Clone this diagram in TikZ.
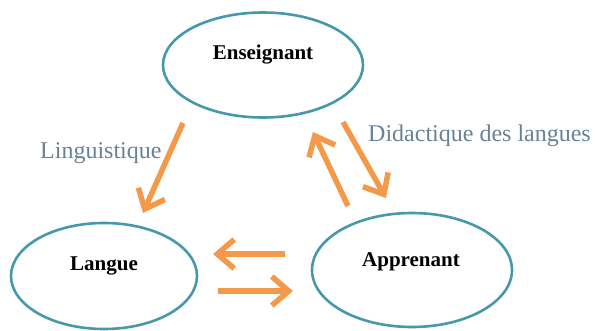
\documentclass[tikz,border=0pt]{standalone}
\usepackage{fontspec}
\setmainfont{Liberation Serif}
\usetikzlibrary{shapes.geometric,arrows.meta}
\definecolor{ringteal}{RGB}{72,152,172}
\definecolor{flow}{RGB}{244,152,74}
\definecolor{labelslate}{RGB}{104,130,152}
\tikzset{
  actor/.style={draw=ringteal,line width=2.6pt,ellipse,minimum width=#1,fill=none},
  actorname/.style={font=\fontsize{21}{24}\selectfont\bfseries,text=black},
  flowarrow/.style={draw=flow,line width=5.5pt,-{Straight Barb[length=17pt,width=29pt,line width=5.5pt]}},
  fieldlabel/.style={font=\fontsize{24}{28}\selectfont,text=labelslate}
}
\begin{document}
\begin{tikzpicture}[x=1pt,y=-1pt]
\useasboundingbox (0,0) rectangle (595,330);
\fill[white] (0,0) rectangle (595,330);
% the three poles
\node[actor=200pt,minimum height=105pt] (ens) at (263,65) {};
\node[actor=186pt,minimum height=106pt] (lang) at (104,276) {};
\node[actor=200pt,minimum height=114pt] (app) at (412,270) {};
\node[actorname] (ensT) at (263,55) {Enseignant};
\node[actorname] (langT) at (104,266) {Langue};
\node[actorname] (appT) at (411,262) {Apprenant};
% arrow end points
\coordinate (l1) at (183,123);
\coordinate (l2) at (143,213);
\coordinate (h1) at (285,254);
\coordinate (h2) at (213,254);
\coordinate (h3) at (218,291);
\coordinate (h4) at (293,291);
\coordinate (u1) at (348,206);
\coordinate (u2) at (313,132);
\coordinate (d1) at (343,122);
\coordinate (d2) at (386,198);
\draw[flowarrow] (l1) -- (l2);
\draw[flowarrow] (h1) -- (h2);
\draw[flowarrow] (h3) -- (h4);
\draw[flowarrow] (u1) -- (u2);
\draw[flowarrow] (d1) -- (d2);
% field labels
\node[fieldlabel,anchor=base west,inner sep=0pt] (ling) at (40,158) {Linguistique};
\node[fieldlabel,anchor=base west,inner sep=0pt] (dida) at (368,141) {Didactique des langues};
\end{tikzpicture}
\end{document}
